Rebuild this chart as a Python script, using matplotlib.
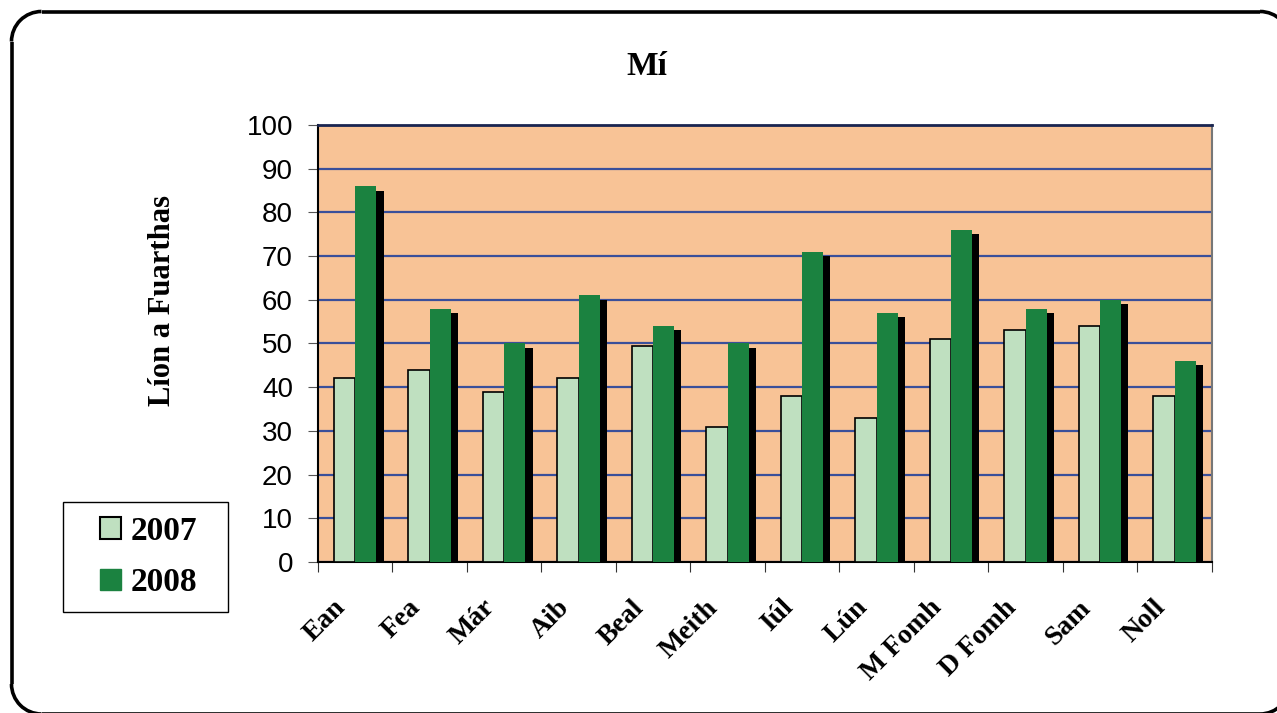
import numpy as np
import matplotlib.pyplot as plt
import matplotlib.transforms as mtransforms
from matplotlib.patches import Patch, Rectangle, Arc
from matplotlib.lines import Line2D

# data
months = ["Ean", "Fea", "Már", "Aib", "Beal", "Meith", "Iúl", "Lún",
          "M Fomh", "D Fomh", "Sam", "Noll"]
y2007 = [42, 44, 39, 42, 49.5, 31, 38, 33, 51, 53, 54, 38]
y2008 = [86, 58, 50, 61, 54, 50, 71, 57, 76, 58, 60, 46]

c07 = "#bfe0c0"
c08 = "#1b8240"
bg = "#f8c396"
grid = "#3a4f9a"
serif = ["Liberation Serif", "DejaVu Serif"]
sans = ["Liberation Sans", "DejaVu Sans"]

fig = plt.figure(figsize=(12.77, 7.13), dpi=100)
ax = fig.add_axes([0.249, 0.2118, 0.7, 0.6129])
ax.set_facecolor(bg)

x = np.arange(len(months))
w = 0.285
# shadow behind 2008 bars
ax.bar(x + 0.5 * w + 0.095, np.array(y2008) - 1, w, color="black", zorder=2)
ax.bar(x - 0.5 * w, y2007, w, color=c07, edgecolor="black", linewidth=1.2, zorder=3)
ax.bar(x + 0.5 * w, y2008, w, color=c08, zorder=3)

ax.set_xlim(-0.5, len(months) - 0.5)
ax.set_ylim(0, 100)
ax.set_yticks(range(0, 101, 10))
ax.yaxis.grid(True, color=grid, linewidth=1.6, zorder=1)
ax.set_axisbelow(True)

ax.set_xticks(np.arange(-0.5, len(months), 1))
ax.set_xticklabels([])
ax.tick_params(axis="x", length=7, direction="out", color="#333333")
ax.tick_params(axis="y", length=7, direction="out", labelsize=20, pad=11,
               color="#555555")
for t in ax.get_yticklabels():
    t.set_fontfamily(sans)

# month labels, rotated like the original
shift = mtransforms.ScaledTranslation(-0.22, -0.33, fig.dpi_scale_trans)
for xi, m in zip(x, months):
    ax.text(xi, 0, m, transform=ax.get_xaxis_transform() + shift,
            rotation=45, ha="right", va="top", rotation_mode="anchor",
            fontfamily=serif, fontweight="bold", fontsize=20, clip_on=False)

ax.spines["top"].set_color("#1a2550")
ax.spines["top"].set_linewidth(2)
ax.spines["right"].set_color("#777777")
ax.spines["right"].set_linewidth(1.5)
ax.spines["left"].set_linewidth(1.5)
ax.spines["bottom"].set_linewidth(1.5)

fig.text(0.127, 0.579, "Líon a Fuarthas", rotation=90, ha="center", va="center",
         fontfamily=serif, fontweight="bold", fontsize=22)
fig.text(0.5067, 0.9074, "Mí", ha="center", va="center", fontfamily=serif,
         fontweight="bold", fontsize=24)

# legend box
fig.patches.append(Rectangle((0.0493, 0.1417), 0.1292, 0.1543,
                             transform=fig.transFigure, facecolor="white",
                             edgecolor="black", linewidth=1))
handles = [Patch(facecolor=c07, edgecolor="black", linewidth=1.5),
           Patch(facecolor=c08, edgecolor=c08)]
fig.legend(handles, ["2007", "2008"], loc="center",
           bbox_to_anchor=(0.1167, 0.2188), frameon=False,
           prop={"family": serif, "weight": "bold", "size": 24},
           handlelength=0.62, handleheight=0.62, handletextpad=0.3,
           labelspacing=0.62, borderpad=0, borderaxespad=0)

# rounded outer frame (inches), partly running off the canvas
L, R, B, T, r = 0.115, 12.9, -0.01, 7.015, 0.3
tr = fig.dpi_scale_trans
lw = 2.6
for xs, ys in [([L + r, R - r], [T, T]), ([L + r, R - r], [B, B]),
               ([L, L], [B + r, T - r]), ([R, R], [B + r, T - r])]:
    fig.add_artist(Line2D(xs, ys, transform=tr, color="black", linewidth=lw,
                          solid_capstyle="butt"))
for cx, cy, a0 in [(L + r, T - r, 90), (L + r, B + r, 180),
                   (R - r, B + r, 270), (R - r, T - r, 0)]:
    fig.add_artist(Arc((cx, cy), 2 * r, 2 * r, theta1=a0, theta2=a0 + 90,
                       transform=tr, color="black", linewidth=lw))

fig.savefig("out.png", dpi=100)
